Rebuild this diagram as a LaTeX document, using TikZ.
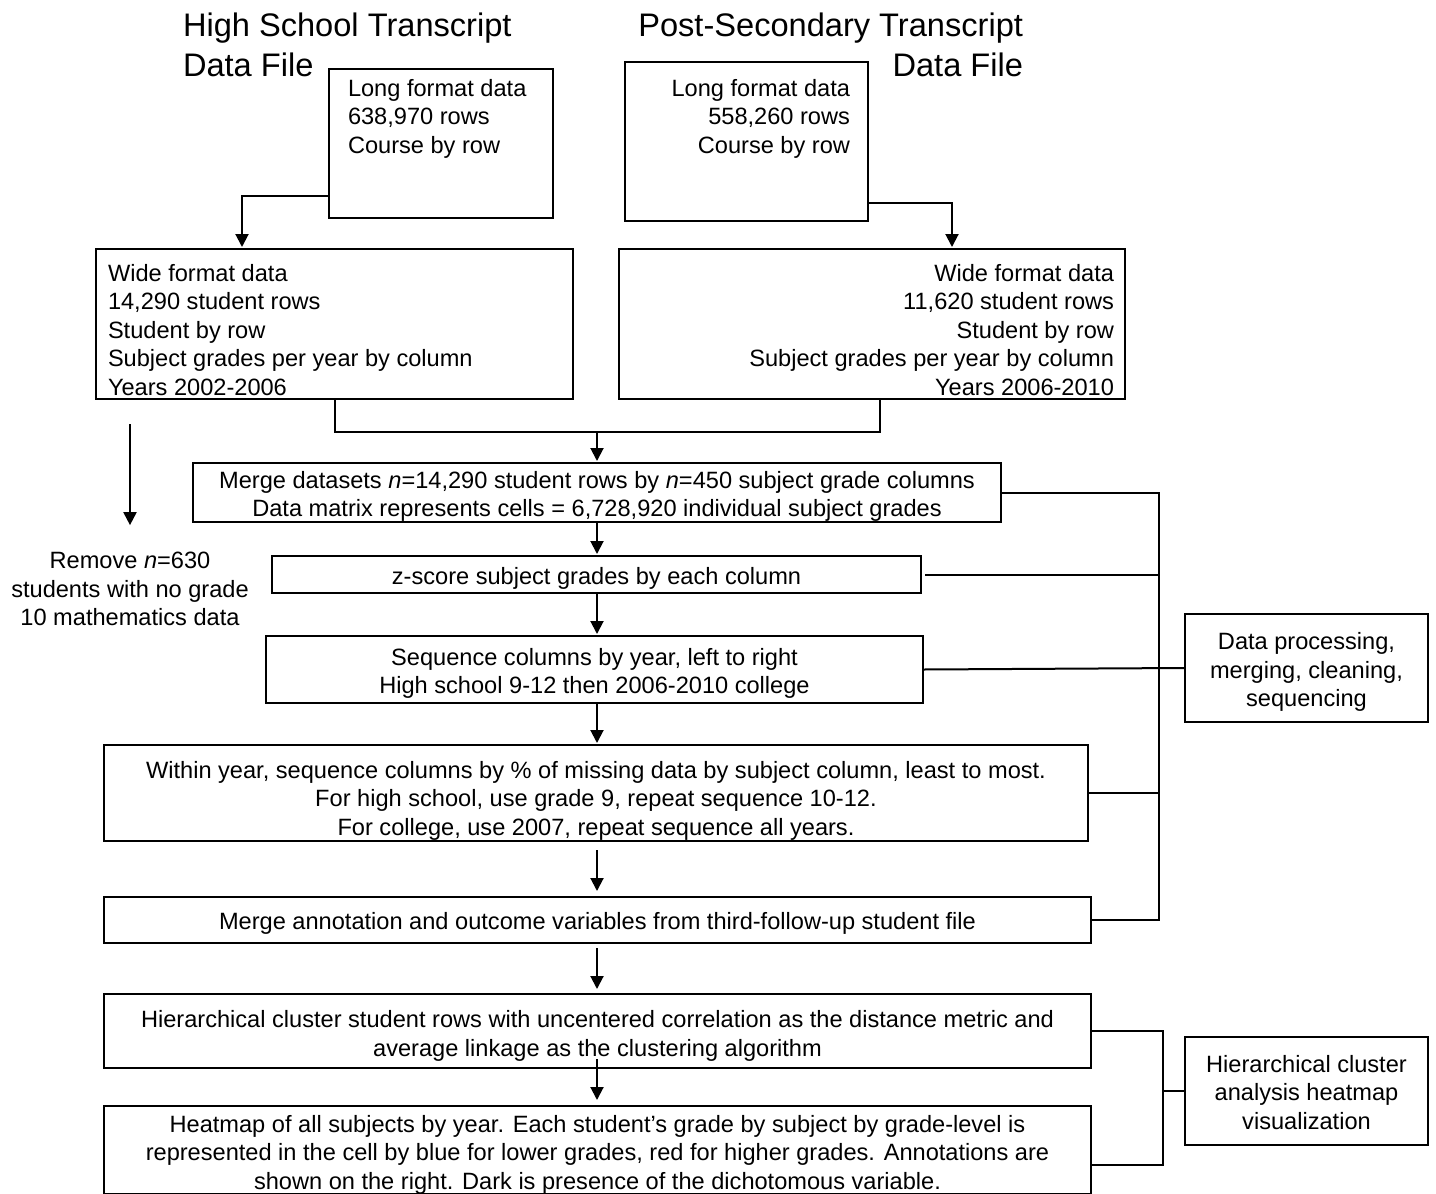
\documentclass[tikz,border=0pt]{standalone}
\usepackage{fontspec}
\setmainfont{Liberation Sans}
\usetikzlibrary{arrows.meta}
\begin{document}
\begin{tikzpicture}[
  x=0.5pt, y=-0.5pt,
  line width=1pt,
  every node/.style={inner sep=0pt, font=\fontsize{11.8}{14.25}\selectfont},
  box/.style={draw, rectangle},
  cbox/.style={box, align=center, text depth=0pt},
  hdr/.style={font=\fontsize{16.3}{20}\selectfont},
  arr/.style={-{Triangle[width=6.5pt,length=6.5pt]}, shorten >=0.5pt}
]
\useasboundingbox (0,0) rectangle (1436,1194);

\node[hdr, anchor=north west, align=left] (hshead) at (182,12) {High School Transcript\\Data File};
\node[hdr, anchor=north east, align=right] (pshead) at (1024,12) {Post-Secondary Transcript\\Data File};

\node[box, minimum width=112pt, minimum height=74.5pt] (hslong) at (441,143.5) {};
\node[anchor=north west, align=left] (hslongtxt) at (347,78) {Long format data\\638,970 rows\\Course by row};
\node[box, minimum width=121.5pt, minimum height=79.5pt] (pslong) at (746.5,141.5) {};
\node[anchor=north east, align=right] (pslongtxt) at (851,78) {Long format data\\558,260 rows\\Course by row};

\node[box, minimum width=238.5pt, minimum height=75pt] (hswide) at (334.5,324) {};
\node[anchor=west, align=left] (hswidetxt) at (107,330) {Wide format data\\14,290 student rows\\Student by row\\Subject grades per year by column\\Years 2002-2006};
\node[box, minimum width=253pt, minimum height=75pt] (pswide) at (872,324) {};
\node[anchor=east, align=right] (pswidetxt) at (1115,330) {Wide format data\\11,620 student rows\\Student by row\\Subject grades per year by column\\Years 2006-2010};

\node[cbox, text height=24pt, minimum width=404pt, minimum height=29.5pt] (merge) at (597,492.5) {Merge datasets \textit{n}=14,290 student rows by \textit{n}=450 subject grade columns\\Data matrix represents cells = 6,728,920 individual subject grades};
\node[cbox, text height=9.7pt, minimum width=324.5pt, minimum height=18.5pt] (zscore) at (596.5,574.5) {z-score subject grades by each column};
\node[cbox, text height=24pt, minimum width=328.5pt, minimum height=33.5pt] (seqyear) at (594.5,669.5) {Sequence columns by year, left to right\\High school 9-12 then 2006-2010 college};
\node[cbox, text height=42.2pt, minimum width=492pt, minimum height=48pt] (seqmiss) at (596,793) {Within year, sequence columns by \% of missing data by subject column, least to most.\\For high school, use grade 9, repeat sequence 10-12.\\For college, use 2007, repeat sequence all years.};
\node[cbox, text height=9.7pt, minimum width=493.5pt, minimum height=23pt] (annot) at (597.5,920) {Merge annotation and outcome variables from third-follow-up student file};
\node[cbox, text height=25pt, minimum width=493.5pt, minimum height=37pt] (hclust) at (597.5,1031) {Hierarchical cluster student rows with uncentered correlation as the distance metric and\\average linkage as the clustering algorithm};
\node[cbox, text height=39.2pt, minimum width=493.5pt, minimum height=44pt] (heatmap) at (597.5,1150) {Heatmap of all subjects by year. Each student’s grade by subject by grade-level is\\represented in the cell by blue for lower grades, red for higher grades. Annotations are\\shown on the right. Dark is presence of the dichotomous variable.};

\node[align=center] (remove) at (130,589) {Remove \textit{n}=630\\students with no grade\\10 mathematics data};

\node[cbox, text height=38.7pt, minimum width=121.5pt, minimum height=54pt] (dataproc) at (1306.5,668) {Data processing,\\merging, cleaning,\\sequencing};
\node[cbox, text height=38.2pt, minimum width=121.5pt, minimum height=54pt] (hcavis) at (1306.5,1091) {Hierarchical cluster\\analysis heatmap\\visualization};

\draw[arr] (hslong.west |- 0,196) -| (hswide.north -| 242,0);
\draw[arr] (pslong.east |- 0,203) -| (pswide.north -| 952,0);
\draw (hswide.south -| 335,0) -- (335,432) -| (pswide.south -| 880,0);
\draw[arr] (merge.north |- 0,432) -- (merge.north);
\draw[arr] (merge.south) -- (zscore.north -| merge.south);
\draw[arr] (zscore.south -| merge.south) -- (seqyear.north -| merge.south);
\draw[arr] (seqyear.south -| merge.south) -- (seqmiss.north -| merge.south);
\draw[arr, shorten <=4pt, shorten >=2.5pt] (seqmiss.south -| merge.south) -- (annot.north -| merge.south);
\draw[arr, shorten <=2pt, shorten >=2pt] (annot.south -| merge.south) -- (hclust.north -| merge.south);
\draw[arr, shorten <=-5pt, shorten >=2.5pt] (hclust.south -| merge.south) -- (heatmap.north -| merge.south);
\draw[arr, shorten <=12pt, shorten >=13pt] (hswide.south -| remove.north) -- (remove.north);

\draw (merge.east) -| (annot.east -| 1159,0) -- (annot.east);
\draw ([xshift=1.5pt]zscore.east) -- (zscore.east -| 1159,0);
\draw (seqmiss.east) -- (seqmiss.east -| 1159,0);
\draw (seqyear.east) -- (dataproc.west);

\draw (hclust.east) -| (1163,1165) -- (heatmap.east |- 0,1165);
\draw (hcavis.west -| 1163,0) -- (hcavis.west);
\end{tikzpicture}
\end{document}
